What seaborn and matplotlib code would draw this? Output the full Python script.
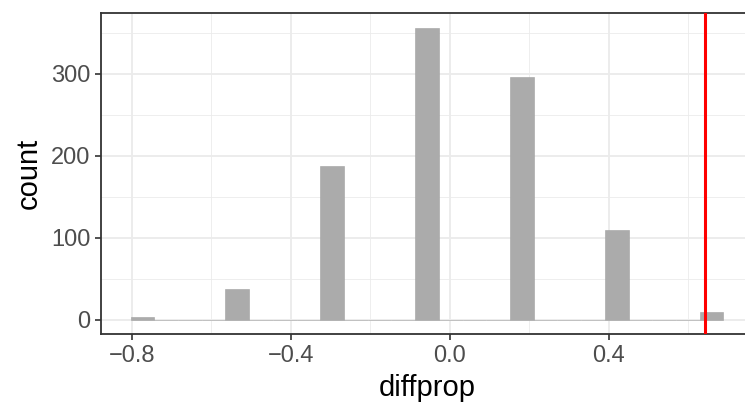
import matplotlib
matplotlib.use("Agg")
import matplotlib.pyplot as plt
import seaborn as sns
import pandas as pd

# permutation distribution of the difference in proportions
diffprop = [-0.773, -0.534, -0.296, -0.057, 0.181, 0.420, 0.658]
counts = [3, 38, 188, 356, 296, 110, 9]
obs_diff = 0.643

xticks = [-0.8, -0.4, 0.0, 0.4]
xminor = [-0.6, -0.2, 0.2, 0.6]
yticks = [0, 100, 200, 300]
yminor = [50, 150, 250, 350]

n_bins = 25
bin_range = (-0.8025, 0.688)

sns.set_theme(style="whitegrid")
plt.rcParams['font.family'] = ['Liberation Sans', 'DejaVu Sans']


def plot_null_distribution(data):
    """
    Histogram of the null distribution with the observed statistic marked.
    """
    fig = plt.figure(figsize=(7.45, 4.05), dpi=100)
    ax = fig.add_axes([101 / 745, 1 - 334.3 / 405, 652 / 745, 321 / 405])

    sns.histplot(data=data, x='diffprop', weights='count', bins=n_bins,
                 binrange=bin_range, color='#ababab', alpha=1,
                 edgecolor='#a0a0a0', linewidth=0.4, ax=ax, zorder=3)
    ax.axvline(obs_diff, color='#ff0000', linewidth=2.2, zorder=4)

    lo, hi = bin_range
    pad = 0.05 * (hi - lo)
    ax.set_xlim(lo - pad, hi + pad)
    top = max(counts)
    ax.set_ylim(-0.05 * top, 1.05 * top)

    ax.set_facecolor('white')
    ax.set_xticks(xticks)
    ax.set_xticklabels(['\u22120.8', '\u22120.4', '0.0', '0.4'])
    ax.set_xticks(xminor, minor=True)
    ax.set_yticks(yticks)
    ax.set_yticks(yminor, minor=True)
    ax.grid(which='major', color='#ebebeb', linewidth=1.3, zorder=0)
    ax.grid(which='minor', color='#ebebeb', linewidth=0.6, zorder=0)
    ax.set_axisbelow(True)

    for side in ax.spines.values():
        side.set_color('#333333')
        side.set_linewidth(1.3)
        side.set_visible(True)

    ax.tick_params(which='major', length=4.5, width=1.2, color='#333333',
                   labelcolor='#4d4d4d', labelsize=17, pad=3,
                   bottom=True, left=True)
    ax.tick_params(which='minor', length=0, bottom=False, left=False)

    ax.set_xlabel('diffprop', fontsize=21, color='black', labelpad=5)
    ax.set_ylabel('count', fontsize=21, color='black', labelpad=6)

    fig.savefig('out.png', dpi=100)


def main():
    data = pd.DataFrame({'diffprop': diffprop, 'count': counts})
    plot_null_distribution(data)


if __name__ == "__main__":
    main()
